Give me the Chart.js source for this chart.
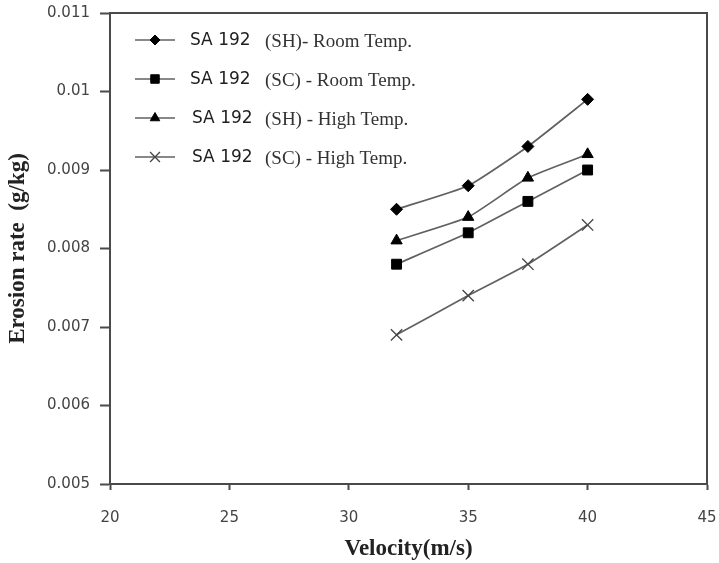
<!DOCTYPE html>
<html>
<head>
<meta charset="utf-8">
<script src="https://cdn.jsdelivr.net/npm/chart.js@4/dist/chart.umd.min.js"></script>
<style>
  html, body { margin: 0; padding: 0; background: #fff; }
  #wrap { width: 719px; height: 563px; position: relative; }
</style>
</head>
<body>
<div id="wrap"><canvas id="c" width="719" height="563"></canvas></div>
<script>
// ---- data ----
const velocities = [32, 35, 37.5, 40];
const shRoom  = [0.0085, 0.0088, 0.0093, 0.0099];
const scRoom  = [0.0078, 0.0082, 0.0086, 0.0090];
const shHigh  = [0.0081, 0.0084, 0.0089, 0.0092];
const scHigh  = [0.0069, 0.0074, 0.0078, 0.0083];
const seriesLabels = [
  'SA 192 (SH)- Room Temp.',
  'SA 192 (SC) - Room Temp.',
  'SA 192 (SH) - High Temp.',
  'SA 192 (SC) - High Temp.'
];
const xTicks = [20, 25, 30, 35, 40, 45];
const yTicks = [0.005, 0.006, 0.007, 0.008, 0.009, 0.01, 0.011];
const xTitle = 'Velocity(m/s)';
const yTitle = 'Erosion rate  (g/kg)';

const toPts = arr => arr.map((v, i) => ({ x: velocities[i], y: v }));

const LINE = '#616161';
const AXIS = '#4a4a4a';

const styles = [
  { pointStyle: 'rectRot', pointRadius: 6, bg: '#000', bc: '#000', bw: 1 },
  { pointStyle: 'rect', pointRadius: 7, bg: '#000', bc: '#000', bw: 1 },
  { pointStyle: 'triangle', pointRadius: 6.5, bg: '#000', bc: '#000', bw: 1 },
  { pointStyle: 'crossRot', pointRadius: 8, bg: '#444', bc: '#444', bw: 1.3 }
];
const seriesData = [shRoom, scRoom, shHigh, scHigh];

const datasets = seriesData.map((d, i) => ({
  label: seriesLabels[i],
  data: toPts(d),
  borderColor: LINE,
  borderWidth: 1.7,
  tension: 0.15,
  pointStyle: styles[i].pointStyle,
  pointRadius: styles[i].pointRadius,
  pointBackgroundColor: styles[i].bg,
  pointBorderColor: styles[i].bc,
  pointBorderWidth: styles[i].bw,
  fill: false
}));

const framePlugin = {
  id: 'frame',
  afterDraw(chart) {
    const { ctx, chartArea: a } = chart;
    ctx.save();
    ctx.strokeStyle = AXIS;
    ctx.lineWidth = 2;
    ctx.beginPath();
    ctx.moveTo(a.left, a.top);
    ctx.lineTo(a.right, a.top);
    ctx.lineTo(a.right, a.bottom);
    ctx.stroke();
    ctx.restore();
  }
};

const legendPlugin = {
  id: 'customLegend',
  afterDraw(chart) {
    const { ctx, chartArea: a } = chart;
    ctx.save();
    chart.data.datasets.forEach((ds, i) => {
      const y = a.top + 27 + i * 39;
      const x0 = a.left + 25;
      const x1 = a.left + 65;
      ctx.strokeStyle = ds.borderColor;
      ctx.lineWidth = 1.7;
      ctx.beginPath();
      ctx.moveTo(x0, y);
      ctx.lineTo(x1, y);
      ctx.stroke();
      ctx.fillStyle = ds.pointBackgroundColor;
      ctx.strokeStyle = ds.pointBorderColor;
      ctx.lineWidth = ds.pointBorderWidth;
      Chart.helpers.drawPoint(ctx, {
        pointStyle: ds.pointStyle,
        radius: ds.pointRadius - 1,
        rotation: 0,
        borderWidth: ds.pointBorderWidth
      }, (x0 + x1) / 2, y);
      const label = ds.label;
      const k = label.indexOf('(');
      const pre = label.slice(0, k).trim();
      const post = label.slice(k);
      const tx = a.left + (i < 2 ? 80 : 82);
      ctx.textBaseline = 'middle';
      ctx.textAlign = 'left';
      ctx.fillStyle = '#1e1e1e';
      ctx.font = '17px "DejaVu Sans"';
      ctx.fillText(pre, tx, y + 1);
      ctx.fillStyle = '#333';
      ctx.font = '19px "Liberation Serif"';
      ctx.fillText(post, a.left + 155, y + 2);
    });
    ctx.restore();
  }
};

new Chart(document.getElementById('c'), {
  type: 'line',
  data: { datasets },
  options: {
    responsive: false,
    animation: false,
    events: [],
    layout: { padding: { top: 13, right: 12, left: 0, bottom: 0 } },
    plugins: {
      legend: { display: false },
      tooltip: { enabled: false }
    },
    scales: {
      x: {
        type: 'linear',
        min: 20, max: 45,
        afterBuildTicks: s => { s.ticks = xTicks.map(v => ({ value: v })); },
        afterFit: s => { s.height = 79; s.paddingRight = 10; s.paddingLeft = 0; },
        ticks: {
          color: '#444',
          font: { family: '"DejaVu Sans"', size: 15 },
          padding: 19,
          maxRotation: 0
        },
        grid: {
          drawOnChartArea: false,
          drawTicks: true,
          tickLength: 6,
          tickColor: AXIS,
          tickWidth: 2
        },
        border: { display: true, color: AXIS, width: 2 },
        title: {
          display: true,
          text: xTitle,
          color: '#222',
          font: { family: '"Liberation Serif"', size: 23, weight: 'bold' },
          padding: { top: 0, bottom: 0 }
        }
      },
      y: {
        type: 'linear',
        min: 0.005, max: 0.011,
        afterBuildTicks: s => { s.ticks = yTicks.map(v => ({ value: v })); },
        afterFit: s => { s.width = 110; s.paddingTop = 0; s.paddingBottom = 0; },
        ticks: {
          color: '#444',
          font: { family: '"DejaVu Sans"', size: 15 },
          padding: 10,
          callback: v => String(+v.toFixed(3))
        },
        grid: {
          drawOnChartArea: false,
          drawTicks: true,
          tickLength: 10,
          tickColor: AXIS,
          tickWidth: 2
        },
        border: { display: true, color: AXIS, width: 2 },
        title: {
          display: true,
          text: yTitle,
          color: '#222',
          font: { family: '"Liberation Serif"', size: 23, weight: 'bold' },
          padding: { top: 4, bottom: 0 }
        }
      }
    }
  },
  plugins: [framePlugin, legendPlugin]
});
</script>
</body>
</html>
